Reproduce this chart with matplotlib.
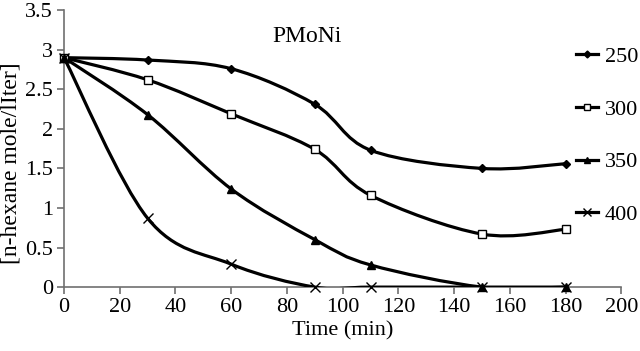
import numpy as np
import matplotlib
matplotlib.use("Agg")
import matplotlib.pyplot as plt
from matplotlib.path import Path
from matplotlib.patches import PathPatch
from matplotlib.lines import Line2D

plt.rcParams['font.family'] = ['Liberation Serif', 'DejaVu Serif']

time_250 = [0, 30, 60, 90, 110, 150, 180]
conc_250 = [2.90, 2.87, 2.76, 2.31, 1.73, 1.50, 1.56]
time_300 = [0, 30, 60, 90, 110, 150, 180]
conc_300 = [2.90, 2.62, 2.19, 1.74, 1.16, 0.67, 0.73]
time_350 = [0, 30, 60, 90, 110, 150, 180]
conc_350 = [2.90, 2.18, 1.24, 0.60, 0.28, 0.0, 0.0]
time_400 = [0, 30, 60, 90, 110, 150, 180]
conc_400 = [2.90, 0.87, 0.29, 0.0, 0.0, 0.0, 0.0]

labels = ["250", "300", "350", "400"]
markers = ["D", "s", "^", "x"]


def smooth_path(x, y):
    """Excel-like smoothed line as cubic Bezier segments through the points."""
    p = np.column_stack([x, y]).astype(float)
    n = len(p)
    verts = [p[0]]
    codes = [Path.MOVETO]
    for i in range(n - 1):
        p0 = p[i - 1] if i > 0 else p[i]
        p3 = p[i + 2] if i + 2 < n else p[i + 1]
        c1 = p[i] + (p[i + 1] - p0) / 6.0
        c2 = p[i + 1] - (p3 - p[i]) / 6.0
        verts += [c1, c2, p[i + 1]]
        codes += [Path.CURVE4] * 3
    return Path(verts, codes)


fig = plt.figure(figsize=(6.4, 3.51), dpi=100)
ax = fig.add_axes([0.1, 0.182, 0.871, 0.789])

series = [(time_250, conc_250), (time_300, conc_300),
          (time_350, conc_350), (time_400, conc_400)]
msizes = [4.5, 5.5, 6, 6.5]
handles = []
for (t, c), m, lab, ms in zip(series, markers, labels, msizes):
    ax.add_patch(PathPatch(smooth_path(t, c), facecolor='none',
                           edgecolor='black', lw=2.3, zorder=3))
    face = 'white' if m == 's' else 'black'
    ax.plot(t, c, linestyle='none', marker=m, markersize=ms,
            markerfacecolor=face, markeredgecolor='black',
            markeredgewidth=1.0, zorder=4, clip_on=False)
    handles.append(Line2D([], [], color='black', lw=2.3, marker=m,
                          markersize=ms - 1, markerfacecolor=face,
                          markeredgecolor='black', markeredgewidth=1.0))

ax.set_xlim(0, 200)
ax.set_ylim(0, 3.5)
ax.set_xticks(np.arange(0, 201, 20))
ax.set_yticks(np.arange(0, 3.51, 0.5))
ax.set_yticklabels(["0", "0.5", "1", "1.5", "2", "2.5", "3", "3.5"])

for s in ['top', 'right']:
    ax.spines[s].set_visible(False)
for s in ['left', 'bottom']:
    ax.spines[s].set_color('#707070')
    ax.spines[s].set_linewidth(1.2)
ax.tick_params(direction='out', length=5, width=1.2, color='#707070',
               labelsize=16, pad=3)

ax.set_xlabel("Time (min)", fontsize=16, labelpad=3)
ax.set_ylabel("[n-hexane mole/lIter]", fontsize=17)
ax.yaxis.set_label_coords(-0.076, 0.448)
ax.text(0.436, 0.906, "PMoNi", transform=ax.transAxes, fontsize=17,
        ha='center', va='center')

fig.legend(handles, labels, loc='upper left',
           bbox_to_anchor=(0.9, 0.868), frameon=False, fontsize=16,
           handlelength=1.0, handletextpad=0.3, labelspacing=1.45,
           borderaxespad=0, borderpad=0)

fig.savefig("out.png", dpi=100)
